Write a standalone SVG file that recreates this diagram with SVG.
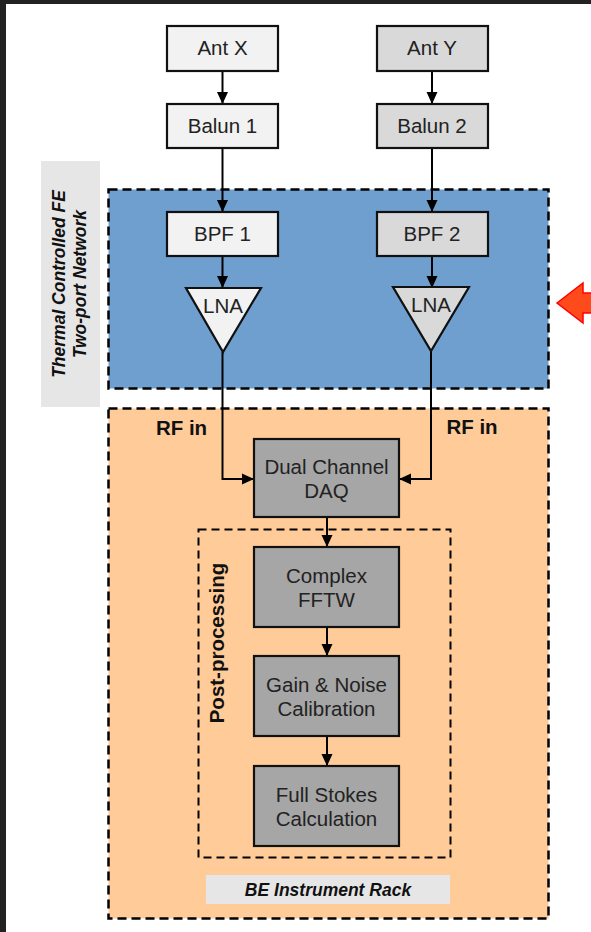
<svg xmlns="http://www.w3.org/2000/svg" width="591" height="932" viewBox="0 0 591 932">
<defs>
<style>
.box{stroke:#111;stroke-width:2.2}
.lt{fill:#f2f2f2}
.dk{fill:#d9d9d9}
.pr{fill:#a6a6a6}
.t{font-family:"Liberation Sans",Arial,sans-serif;font-size:20.5px;fill:#222;text-anchor:middle}
.b{font-family:"Liberation Sans",Arial,sans-serif;font-weight:bold;fill:#111;text-anchor:middle}
.region{stroke:#000;stroke-width:2.5;stroke-dasharray:9 5}
.con{fill:none;stroke:#000;stroke-width:2}
</style>
<marker id="ah" markerUnits="userSpaceOnUse" markerWidth="13" markerHeight="13" viewBox="0 0 13 13" refX="12" refY="6.5" orient="auto">
<path d="M0,1 L12,6.5 L0,12 z" fill="#000"/>
</marker>
</defs>
<rect width="591" height="932" fill="#fff"/>
<rect x="0" y="0" width="591" height="4" fill="#222"/>
<rect x="0" y="0" width="6" height="932" fill="#222"/>

<g id="fe-region">
<rect class="region" x="108.5" y="189.5" width="440" height="199" fill="#6f9fcf"/>
</g>
<g id="be-region">
<rect class="region" x="108.5" y="408.5" width="440" height="510" fill="#ffcc99"/>
</g>
<g id="post-region">
<rect x="198.5" y="529.5" width="252" height="328" fill="none" stroke="#000" stroke-width="2" stroke-dasharray="8 5"/>
<text class="b" font-size="20.5" transform="translate(224,643) rotate(-90)">Post-processing</text>
</g>
<g id="fe-label">
<rect x="41" y="161" width="59" height="246" fill="#e6e6e6"/>
<text class="b" font-size="17.5" font-style="italic" transform="translate(65,284) rotate(-90)">Thermal Controlled FE</text>
<text class="b" font-size="17.5" font-style="italic" transform="translate(86,284) rotate(-90)">Two-port Network</text>
</g>
<g id="be-label">
<rect x="206" y="875" width="244" height="29" fill="#e6e6e6"/>
<text class="b" font-size="17.5" font-style="italic" x="328" y="896">BE Instrument Rack</text>
</g>

<g id="connectors">
<line class="con" x1="222.5" y1="71" x2="222.5" y2="104" marker-end="url(#ah)"/>
<line class="con" x1="432" y1="71" x2="432" y2="104" marker-end="url(#ah)"/>
<line class="con" x1="222.5" y1="148" x2="222.5" y2="212" marker-end="url(#ah)"/>
<line class="con" x1="432" y1="148" x2="432" y2="212" marker-end="url(#ah)"/>
<line class="con" x1="222.5" y1="256" x2="222.5" y2="288" marker-end="url(#ah)"/>
<line class="con" x1="432" y1="256" x2="432" y2="288" marker-end="url(#ah)"/>
<polyline class="con" points="222.5,352 222.5,479 254,479" marker-end="url(#ah)"/>
<polyline class="con" points="431,351 431,479 399,479" marker-end="url(#ah)"/>
<line class="con" x1="327" y1="517" x2="327" y2="547" marker-end="url(#ah)"/>
<line class="con" x1="327" y1="627" x2="327" y2="656" marker-end="url(#ah)"/>
<line class="con" x1="327" y1="736" x2="327" y2="766" marker-end="url(#ah)"/>
</g>

<g id="ant-x"><rect class="box lt" x="167" y="26" width="111" height="45"/><text class="t" x="222.5" y="55">Ant X</text></g>
<g id="ant-y"><rect class="box dk" x="377" y="26" width="111" height="45"/><text class="t" x="432" y="55">Ant Y</text></g>
<g id="balun-1"><rect class="box lt" x="167" y="104" width="111" height="44"/><text class="t" x="222.5" y="133">Balun 1</text></g>
<g id="balun-2"><rect class="box dk" x="377" y="104" width="111" height="44"/><text class="t" x="432" y="133">Balun 2</text></g>
<g id="bpf-1"><rect class="box lt" x="167" y="212" width="111" height="44"/><text class="t" x="222.5" y="241">BPF 1</text></g>
<g id="bpf-2"><rect class="box dk" x="377" y="212" width="111" height="44"/><text class="t" x="432" y="241">BPF 2</text></g>
<g id="lna-1"><polygon class="box lt" points="186,288 261,288 223,352"/><text class="t" x="223" y="313">LNA</text></g>
<g id="lna-2"><polygon class="box dk" points="393,287 469,287 431,351"/><text class="t" x="431" y="312">LNA</text></g>

<text class="b" font-size="20.5" x="181.5" y="435">RF in</text>
<text class="b" font-size="20.5" x="472" y="434">RF in</text>

<g id="daq"><rect class="box pr" x="254" y="439" width="145" height="78"/><text class="t" x="326.5" y="474">Dual Channel</text><text class="t" x="326.5" y="498">DAQ</text></g>
<g id="fftw"><rect class="box pr" x="254" y="547" width="145" height="80"/><text class="t" x="326.5" y="583">Complex</text><text class="t" x="326.5" y="607">FFTW</text></g>
<g id="calib"><rect class="box pr" x="254" y="656" width="145" height="80"/><text class="t" x="326.5" y="692">Gain &amp; Noise</text><text class="t" x="326.5" y="716">Calibration</text></g>
<g id="stokes"><rect class="box pr" x="254" y="766" width="145" height="80"/><text class="t" x="326.5" y="802">Full Stokes</text><text class="t" x="326.5" y="826">Calculation</text></g>

<g id="pointer">
<polygon points="557,303 583,283 583,293 593,293 593,313 583,313 583,323" fill="#ff4a1c" stroke="#ff0000" stroke-width="1.5"/>
</g>
</svg>
